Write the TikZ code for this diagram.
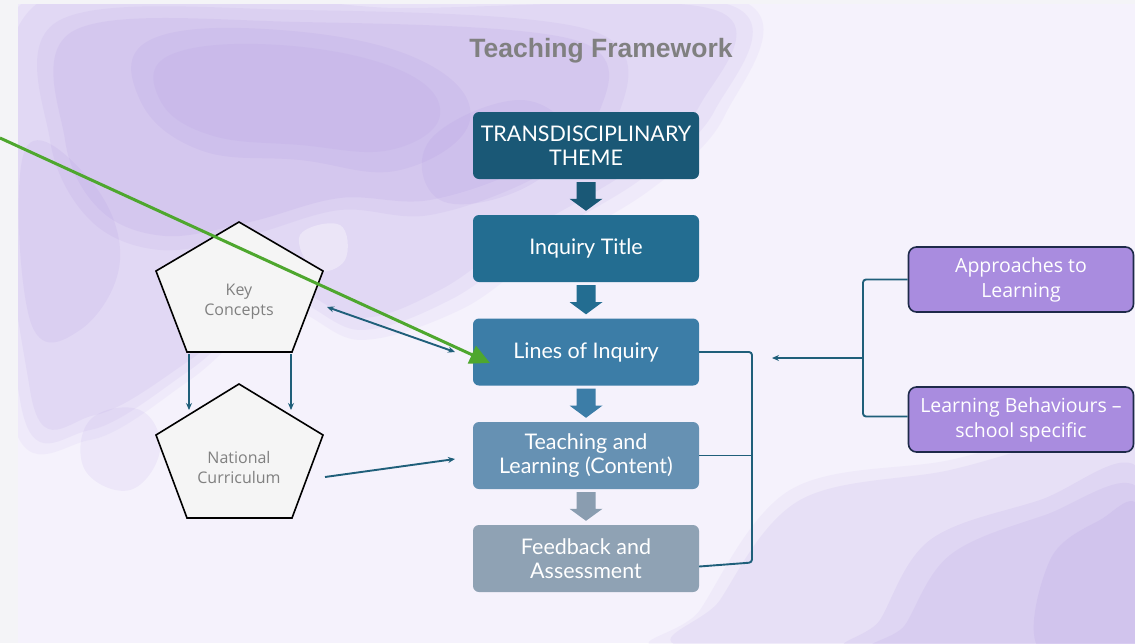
\documentclass[tikz,border=0pt]{standalone}
\usepackage{fontspec}
\setmainfont{Lato}
\newfontfamily\titlefont{Liberation Sans}
\newfontfamily\pentfont{Open Sans}
\usetikzlibrary{calc,arrows.meta}
\definecolor{outerbg}{HTML}{F4F4F7}
\definecolor{slidebg}{HTML}{F5F2FC}
\definecolor{wash}{HTML}{A98EE0}
\definecolor{cA}{HTML}{1A5876}
\definecolor{cB}{HTML}{236D91}
\definecolor{cC}{HTML}{3C7DA7}
\definecolor{cD}{HTML}{6691B3}
\definecolor{cE}{HTML}{8FA2B4}
\definecolor{cEa}{HTML}{8A9DB0}
\definecolor{conncol}{HTML}{1F5F7A}
\definecolor{purp}{HTML}{A98CDF}
\definecolor{purpline}{HTML}{1E2A4A}
\definecolor{greenarr}{HTML}{4EA72E}
\definecolor{titlegray}{HTML}{808080}
\newcommand\blockarr[3]{%
  \fill[#3] ($(#1.south)+(-9.5,3)$) -- ($(#1.south)+(9.5,3)$)
   -- ($(#1.south)!0.55!(#2.north)+(9.5,0)$) -- ($(#1.south)!0.55!(#2.north)+(16.5,0)$)
   -- ($(#2.north)+(0,-4)$)
   -- ($(#1.south)!0.55!(#2.north)+(-16.5,0)$) -- ($(#1.south)!0.55!(#2.north)+(-9.5,0)$) -- cycle;}
\begin{document}
\begin{tikzpicture}[x=1pt,y=-1pt,
  flowbox/.style={rectangle, rounded corners=6pt, minimum width=226pt, minimum height=67pt,
     text=white, align=center, font=\fontsize{21.5}{24}\selectfont, inner sep=2pt},
  sidebox/.style={rectangle, rounded corners=8pt, minimum width=225pt, minimum height=65pt,
     fill=purp, draw=purpline, line width=1.6pt, text=white, align=center,
     font=\pentfont\fontsize{19.5}{25}\selectfont},
  pent/.style={draw=black, line width=1.6pt, fill=black!4, line join=miter},
  penttext/.style={text=titlegray, align=center, font=\pentfont\fontsize{16}{20}\selectfont},
  conn/.style={draw=conncol, line width=1.9pt},
  tip/.style={-{Stealth[length=7pt,width=6pt]}},
  dtip/.style={{Stealth[length=7pt,width=6pt]}-{Stealth[length=7pt,width=6pt]}}
]
\useasboundingbox (0,0) rectangle (1135,643);
\fill[outerbg] (0,0) rectangle (1135,643);
\fill[slidebg] (18,4) rectangle (1135,643);
\begin{scope}
\clip (18,4) rectangle (1135,643);
% top-left watercolour
\fill[wash, opacity=0.07] plot[smooth cycle, tension=0.6] coordinates {(10,0) (400,-5) (740,0) (725,115) (650,190) (540,255) (460,310) (360,340) (280,310) (190,380) (90,440) (10,410)};
\fill[wash, opacity=0.09] plot[smooth cycle, tension=0.6] coordinates {(20,5) (400,2) (730,5) (715,110) (640,180) (530,245) (450,300) (360,330) (280,300) (190,370) (90,430) (20,400)};
\fill[wash, opacity=0.1] plot[smooth cycle, tension=0.6] coordinates {(30,10) (400,8) (715,10) (700,105) (630,170) (520,235) (440,290) (360,318) (280,290) (190,360) (95,415) (30,390)};
\fill[wash, opacity=0.1] plot[smooth cycle, tension=0.6] coordinates {(60,20) (300,10) (590,30) (620,110) (540,175) (430,215) (340,210) (250,235) (160,250) (90,220) (50,140)};
\fill[wash, opacity=0.12] plot[smooth cycle, tension=0.6] coordinates {(75,30) (300,22) (575,40) (600,110) (530,165) (430,200) (340,198) (250,222) (165,236) (100,210) (65,140)};
\fill[wash, opacity=0.12] plot[smooth cycle, tension=0.7] coordinates {(150,40) (280,30) (420,60) (470,120) (400,170) (300,160) (200,150) (140,100)};
\fill[wash, opacity=0.1] plot[smooth cycle, tension=0.7] coordinates {(170,55) (280,45) (400,70) (440,115) (390,150) (300,145) (210,135) (160,100)};
\fill[wash, opacity=0.12] plot[smooth cycle, tension=0.7] coordinates {(430,140) (520,100) (570,140) (520,190) (440,200)};
\fill[wash, opacity=0.12] plot[smooth cycle, tension=0.7] coordinates {(25,150) (90,180) (120,260) (80,330) (30,320)};
\fill[wash, opacity=0.1] plot[smooth cycle, tension=0.7] coordinates {(90,420) (140,410) (160,450) (130,490) (85,470)};
\fill[white, opacity=0.35] plot[smooth cycle, tension=0.7] coordinates {(300,235) (340,225) (345,260) (315,270)};
% bottom-right watercolour
\fill[wash, opacity=0.08] plot[smooth cycle, tension=0.6] coordinates {(700,610) (790,490) (950,460) (1060,430) (1140,420) (1140,650) (680,650)};
\fill[wash, opacity=0.1] plot[smooth cycle, tension=0.6] coordinates {(720,600) (800,500) (950,470) (1060,440) (1140,430) (1140,650) (700,650)};
\fill[wash, opacity=0.12] plot[smooth cycle, tension=0.6] coordinates {(880,620) (930,540) (1040,500) (1140,470) (1140,650) (860,650)};
\fill[wash, opacity=0.12] plot[smooth cycle, tension=0.6] coordinates {(905,625) (950,555) (1045,515) (1140,490) (1140,650) (885,650)};
\fill[wash, opacity=0.14] plot[smooth cycle, tension=0.6] coordinates {(1050,560) (1100,520) (1140,510) (1140,650) (1040,650)};
\end{scope}

% title
\node (title) at (601,51) {\titlefont\bfseries\fontsize{26.5}{30}\selectfont\color{titlegray}Teaching Framework};

% flow boxes
\node[flowbox, fill=cA] (b1) at (586,145.5) {TRANSDISCIPLINARY\\THEME};
\node[flowbox, fill=cB] (b2) at (586,248.5) {Inquiry Title};
\node[flowbox, fill=cC] (b3) at (586,352) {Lines of Inquiry};
\node[flowbox, fill=cD] (b4) at (586,455.5) {Teaching and\\Learning (Content)};
\node[flowbox, fill=cE] (b5) at (586,558.5) {Feedback and\\Assessment};

\blockarr{b1}{b2}{cA}
\blockarr{b2}{b3}{cB}
\blockarr{b3}{b4}{cC}
\blockarr{b4}{b5}{cEa}

% pentagons
\draw[pent] (239,222) -- (323,271) -- (292,352) -- (187,352) -- (156,271) -- cycle;
\node[penttext] (kc) at (239,302) {Key\\Concepts};
\draw[pent] (239,384) -- (323,435) -- (292,518) -- (187,518) -- (156,435) -- cycle;
\node[penttext] (nc) at (239,467) {National\\Curriculum};

\coordinate (kcL) at (189,354); \coordinate (ncL) at (189,410);
\coordinate (kcR) at (291,354); \coordinate (ncR) at (291,410);
\draw[conn, tip] (kcL) -- (ncL);
\draw[conn, tip] (kcR) -- (ncR);
\coordinate (kcE) at (327,307); \coordinate (b3W) at (455,352);
\draw[conn, dtip] (kcE) -- (b3W);
\coordinate (ncE) at (325,477); \coordinate (b4W) at (455,459);
\draw[conn, tip] (ncE) -- (b4W);

% right bracket
\coordinate (br) at (752,0);
\draw[conn, rounded corners=3pt] (b3.east) -- (b3.east -| br) -- ($(b5.east -| br)+(0,4)$) -- ($(b5.east)+(0,8)$);
\draw[conn] (b4.east) -- (b4.east -| br);

% side boxes
\node[sidebox] (ap) at (1021,279.5) {Approaches to\\Learning};
\node[sidebox] (lb) at (1021,419.5) {Learning Behaviours –\\school specific};
\coordinate (bj) at (863,358);
\coordinate (bt) at (772,358);
\draw[conn, rounded corners=3pt] (ap.west) -- (ap.west -| bj) -- ($(lb.west -| bj)+(0,-3)$) -- ($(lb.west)+(0,-3)$);
\draw[conn, tip] (bj) -- (bt);

% green arrow
\coordinate (gs) at (0,138);
\coordinate (gt) at (490,363);
\draw[draw=greenarr, line width=3pt, -{Triangle[length=20pt,width=19pt]}] (gs) -- (gt);
\end{tikzpicture}
\end{document}
